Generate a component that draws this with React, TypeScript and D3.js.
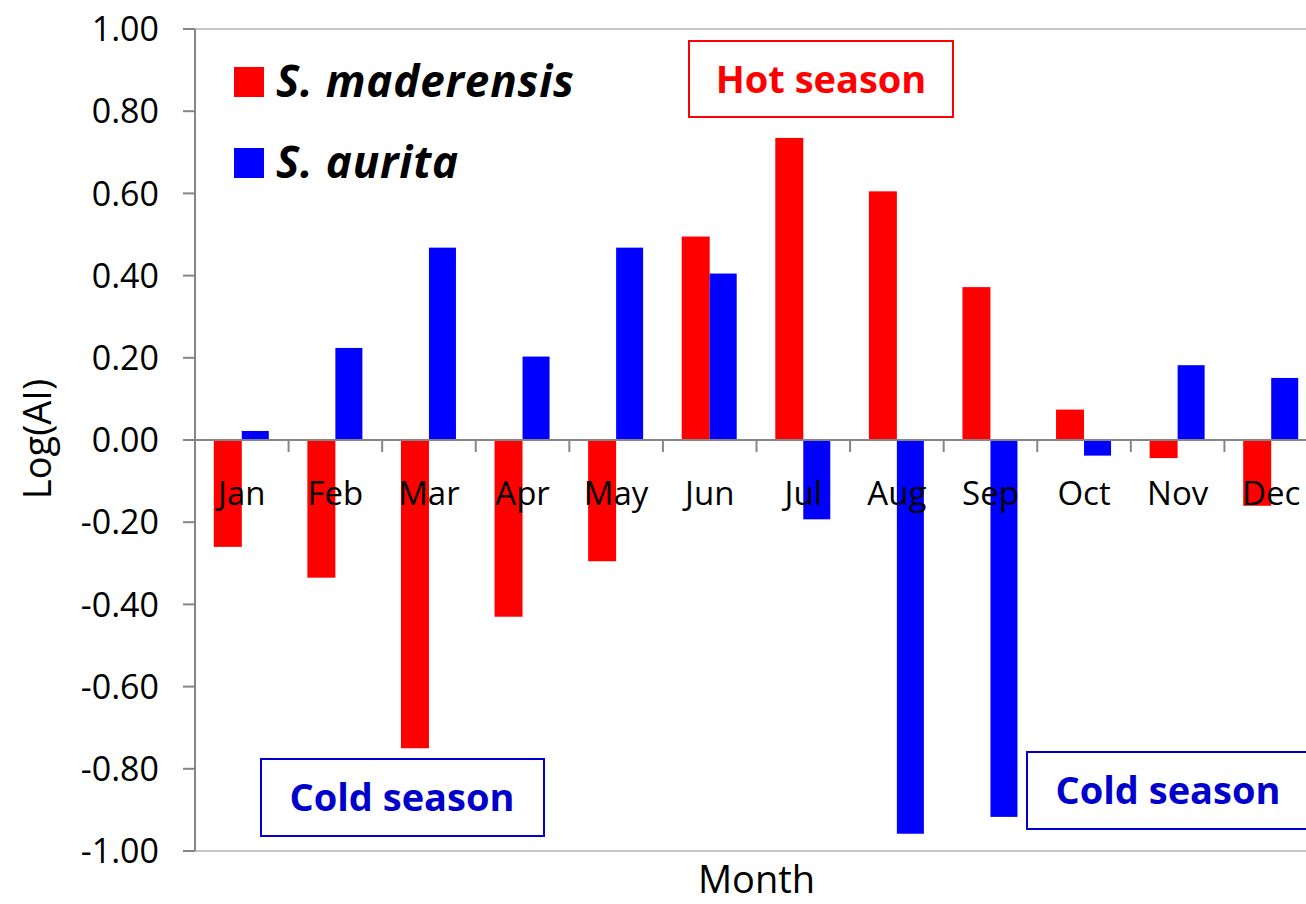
import React, { useEffect, useRef } from "react";
import * as d3 from "d3";

const months = ["Jan", "Feb", "Mar", "Apr", "May", "Jun", "Jul", "Aug", "Sep", "Oct", "Nov", "Dec"];
const maderensis = [-0.26, -0.335, -0.75, -0.43, -0.295, 0.495, 0.735, 0.605, 0.372, 0.074, -0.044, -0.16];
const aurita = [0.022, 0.224, 0.468, 0.203, 0.468, 0.405, -0.193, -0.958, -0.917, -0.038, 0.182, 0.151];
const yTicks = [1, 0.8, 0.6, 0.4, 0.2, 0, -0.2, -0.4, -0.6, -0.8, -1];
const seriesNames = ["S. maderensis", "S. aurita"];
const seriesColors = ["#FF0000", "#0000FF"];

const W = 1306;
const H = 904;
const FONT = "'Open Sans', Lato, sans-serif";

export default function App() {
  const ref = useRef<SVGSVGElement>(null);

  useEffect(() => {
    const svg = d3.select(ref.current);
    svg.selectAll("*").remove();

    const x0 = 195, x1 = 1318;
    const yTop = 29, yBot = 851;
    const x = d3.scaleBand<string>().domain(months).range([x0, x1]);
    const y = d3.scaleLinear().domain([-1, 1]).range([yBot, yTop]);
    const bw = 28;

    // top & bottom plot lines
    [1, -1].forEach((v) => {
      svg.append("line").attr("x1", x0).attr("x2", x1).attr("y1", y(v)).attr("y2", y(v))
        .attr("stroke", "#c8c8c8").attr("stroke-width", 2);
    });

    // bars
    const g = svg.append("g");
    g.selectAll("rect.m").data(maderensis).enter().append("rect")
      .attr("x", (_d, i) => x(months[i])! + x.bandwidth() / 2 - bw)
      .attr("width", bw)
      .attr("y", (d) => Math.min(y(d), y(0)))
      .attr("height", (d) => Math.abs(y(d) - y(0)))
      .attr("fill", seriesColors[0]);
    g.selectAll("rect.a").data(aurita).enter().append("rect")
      .attr("x", (_d, i) => x(months[i])! + x.bandwidth() / 2)
      .attr("width", bw - 1)
      .attr("y", (d) => Math.min(y(d), y(0)))
      .attr("height", (d) => Math.abs(y(d) - y(0)))
      .attr("fill", seriesColors[1]);

    // y axis
    svg.append("line").attr("x1", x0).attr("x2", x0).attr("y1", yTop).attr("y2", yBot)
      .attr("stroke", "#868686").attr("stroke-width", 2);
    yTicks.forEach((t) => {
      svg.append("line").attr("x1", x0 - 12).attr("x2", x0).attr("y1", y(t)).attr("y2", y(t))
        .attr("stroke", "#868686").attr("stroke-width", 2);
      svg.append("text").attr("x", 159).attr("y", y(t)).attr("dy", "0.36em")
        .attr("text-anchor", "end").attr("font-family", FONT).attr("font-size", 34)
        .attr("fill", "#000").text(t.toFixed(2));
    });

    // x axis at zero
    svg.append("line").attr("x1", x0).attr("x2", x1).attr("y1", y(0)).attr("y2", y(0))
      .attr("stroke", "#868686").attr("stroke-width", 2);
    months.forEach((m, i) => {
      if (i > 0) {
        svg.append("line").attr("x1", x(m)!).attr("x2", x(m)!).attr("y1", y(0)).attr("y2", y(0) + 12)
          .attr("stroke", "#868686").attr("stroke-width", 2);
      }
      svg.append("text").attr("x", x(m)! + x.bandwidth() / 2).attr("y", 505)
        .attr("text-anchor", "middle").attr("font-family", FONT).attr("font-size", 33)
        .attr("fill", "#000").text(m);
    });

    // axis titles
    svg.append("text").attr("transform", `translate(51,${y(0) - 1}) rotate(-90)`)
      .attr("text-anchor", "middle").attr("font-family", FONT).attr("font-size", 38)
      .attr("fill", "#000").text("Log(AI)");
    svg.append("text").attr("x", (x0 + x1) / 2).attr("y", 893)
      .attr("text-anchor", "middle").attr("font-family", FONT).attr("font-size", 38)
      .attr("fill", "#000").text("Month");

    // legend
    seriesNames.forEach((n, i) => {
      const ly = 67 + i * 81;
      svg.append("rect").attr("x", 234).attr("y", ly).attr("width", 30).attr("height", 30)
        .attr("fill", seriesColors[i]);
      svg.append("text").attr("x", 276).attr("y", ly + 30).attr("font-family", FONT)
        .attr("font-size", 44).attr("font-weight", "bold").attr("font-style", "italic")
        .attr("letter-spacing", 0.8)
        .attr("fill", "#000").text(n);
    });

    // annotation boxes
    const boxes = [
      { x: 689, y: 41, w: 264, h: 76, text: "Hot season", color: "#FF0000", tc: "#FF0000", cx: 821 },
      { x: 261, y: 759, w: 283, h: 77, text: "Cold season", color: "#0000CC", tc: "#0000CC", cx: 402 },
      { x: 1027, y: 752, w: 290, h: 77, text: "Cold season", color: "#0000CC", tc: "#0000CC", cx: 1168 },
    ];
    boxes.forEach((b) => {
      svg.append("rect").attr("x", b.x).attr("y", b.y).attr("width", b.w).attr("height", b.h)
        .attr("fill", "#fff").attr("stroke", b.color).attr("stroke-width", 2);
      svg.append("text").attr("x", b.cx).attr("y", b.y + 52).attr("text-anchor", "middle")
        .attr("font-family", FONT).attr("font-size", 38).attr("font-weight", "bold")
        .attr("fill", b.tc).text(b.text);
    });
  }, []);

  return (
    <svg ref={ref} width={W} height={H}
      style={{ position: "absolute", left: 0, top: 0, background: "#fff" }} />
  );
}
